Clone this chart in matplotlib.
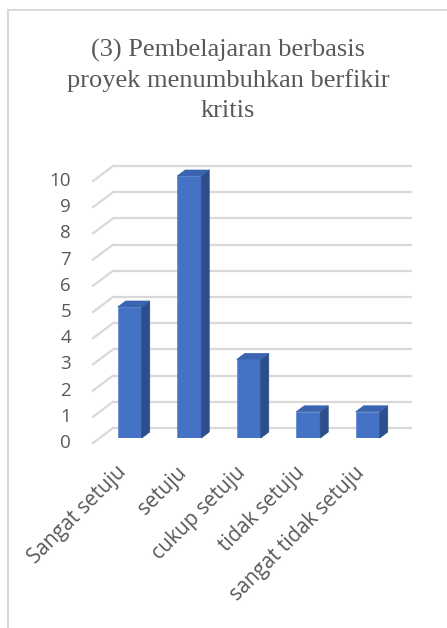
import matplotlib
matplotlib.use("Agg")
import matplotlib.pyplot as plt
from matplotlib.patches import Polygon
from matplotlib.lines import Line2D

# ---- data ----
categories = ["Sangat setuju", "setuju", "cukup setuju", "tidak setuju", "sangat tidak setuju"]
values = [5, 10, 3, 1, 1]
yticks = [0, 1, 2, 3, 4, 5, 6, 7, 8, 9, 10]
title_lines = ["(3) Pembelajaran berbasis", "proyek menumbuhkan berfikir", "kritis"]

# ---- style ----
W, H = 447, 628
front_c = "#4472C4"
side_c = "#2D4E8A"
top_c = "#3A63B0"
grid_c = "#D9D9D9"
text_c = "#595959"
label_font = ["Open Sans", "DejaVu Sans"]

fig = plt.figure(figsize=(W / 100, H / 100), dpi=100)
fig.patch.set_facecolor("white")

# chart border (top and left only visible)
fig.add_artist(Line2D([8 / W, 1.0], [1 - 10 / H, 1 - 10 / H], color=grid_c, lw=1.5))
fig.add_artist(Line2D([8 / W, 8 / W], [0, 1 - 10 / H], color=grid_c, lw=1.5))

# axes = plane of bar fronts
x0, x1 = 100, 397.5
y0, y1 = 438, 176
ax = fig.add_axes([x0 / W, 1 - y0 / H, (x1 - x0) / W, (y0 - y1) / H])
ax.set_xlim(-0.5, len(categories) - 0.5)
ax.set_ylim(0, 10)
ax.axis("off")

ux = (x1 - x0) / len(categories)   # px per category
uy = (y0 - y1) / 10                 # px per unit

# 3D offsets in data units
back_dx, back_dy = 13 / ux, 10 / uy      # back wall
front_dx, front_dy = -7 / ux, -5 / uy    # front floor edge
depth_dx, depth_dy = 8 / ux, 6 / uy      # bar depth
grid_right = (412 - x0) / ux - 0.5

# gridlines
for t in yticks:
    ax.plot([-0.5 + back_dx, grid_right], [t + back_dy, t + back_dy],
            color=grid_c, lw=1.6, clip_on=False, zorder=1, solid_capstyle="butt")
    ax.plot([-0.5 + front_dx, -0.5 + back_dx], [t + front_dy, t + back_dy],
            color=grid_c, lw=1.6, clip_on=False, zorder=1)
    ax.text(-0.5 + front_dx - 22 / ux, t + front_dy, str(t), ha="right", va="center",
            fontsize=13.5, color=text_c, family=label_font, clip_on=False)

# bars
bw = 24 / ux
xs = list(range(len(categories)))
ax.bar(xs, values, width=bw, color=front_c, zorder=3, edgecolor="#5B86CF", linewidth=0.5)
for x, v in zip(xs, values):
    r = x + bw / 2
    l = x - bw / 2
    side = Polygon([(r, 0), (r + depth_dx, depth_dy), (r + depth_dx, v + depth_dy), (r, v)],
                   closed=True, facecolor=side_c, edgecolor=side_c, lw=0.5, zorder=3, clip_on=False)
    top = Polygon([(l, v), (r, v), (r + depth_dx, v + depth_dy), (l + depth_dx, v + depth_dy)],
                  closed=True, facecolor=top_c, edgecolor=top_c, lw=0.5, zorder=3, clip_on=False)
    ax.add_patch(side)
    ax.add_patch(top)

# category labels
for x, c in zip(xs, categories):
    ax.text(x + 0.02, -24 / uy, c, rotation=45, ha="right", va="top",
            fontsize=14.8, color=text_c, family=label_font, clip_on=False)

# title (baselines at 57, 87, 117 px)
for i, line in enumerate(title_lines):
    fig.text(228 / W, 1 - (57 + 30 * i) / H, line, ha="center", va="baseline", fontsize=19,
             color=text_c, family=["Liberation Serif", "DejaVu Serif"])

fig.savefig("out.png", dpi=100, facecolor="white")
